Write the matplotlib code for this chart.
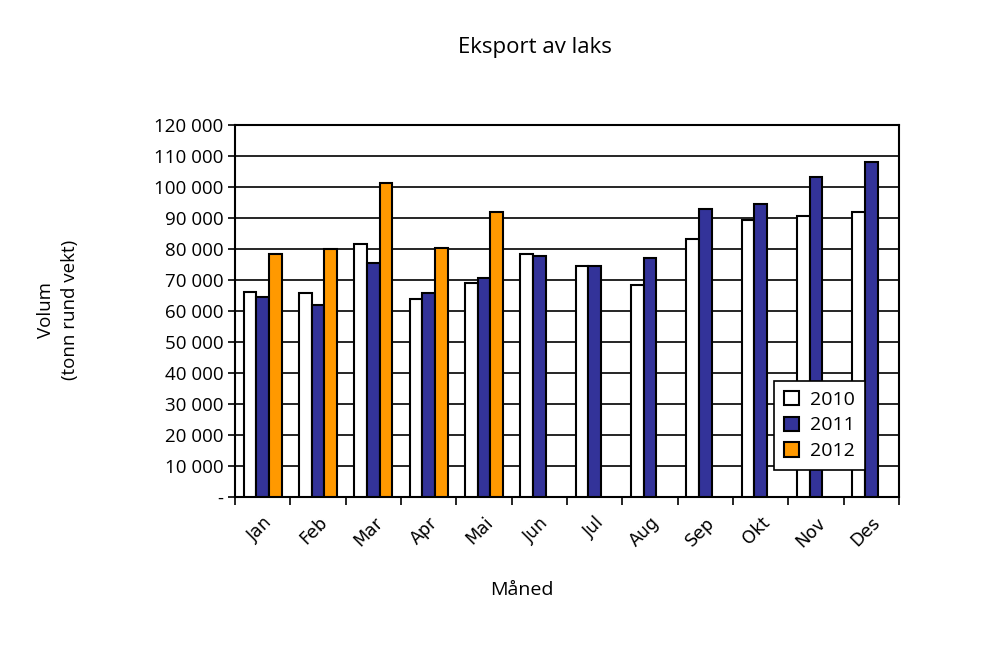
import numpy as np
import matplotlib.pyplot as plt
from matplotlib.ticker import FuncFormatter

# Data (tonn rund vekt)
maaneder = ["Jan", "Feb", "Mar", "Apr", "Mai", "Jun", "Jul", "Aug", "Sep", "Okt", "Nov", "Des"]
v2010 = [66200, 65900, 81600, 64000, 68900, 78500, 74600, 68300, 83100, 89400, 90700, 91800]
v2011 = [64400, 61900, 75600, 65700, 70800, 77600, 74600, 77000, 92800, 94600, 103300, 108000]
v2012 = [78400, 79900, 101200, 80400, 91800]

fig = plt.figure(figsize=(9.85, 6.46), dpi=100)
ax = fig.add_axes([235/985, 1-497/646, 664/985, 372/646])

x = np.arange(len(maaneder))
w = 0.228
ax.bar(x - w, v2010, w, color="white", edgecolor="black", linewidth=1.5, label="2010", zorder=3)
ax.bar(x, v2011, w, color="#333399", edgecolor="black", linewidth=1.5, label="2011", zorder=3)
ax.bar(x[:len(v2012)] + w, v2012, w, color="#FF9900", edgecolor="black", linewidth=1.5, label="2012", zorder=3)

ax.set_xlim(-0.5, 11.5)
ax.set_ylim(0, 120000)
ax.set_yticks(np.arange(0, 120001, 10000))
ax.yaxis.set_major_formatter(FuncFormatter(lambda v, p: "-" if v == 0 else f"{int(v):,}".replace(",", " ")))
ax.yaxis.grid(True, color="black", linewidth=1.2, zorder=0)
ax.tick_params(axis="y", labelsize=13.5, length=5, width=1.2, direction="out")
for lab in ax.get_yticklabels():
    lab.set_family(["Open Sans", "DejaVu Sans"])

ax.set_xticks(x)
ax.set_xticklabels(maaneder, rotation=45, ha="right", rotation_mode="anchor", fontsize=12.5)
ax.set_xticks(np.arange(-0.5, 12, 1), minor=True)
ax.tick_params(axis="x", which="major", length=0, pad=12)
ax.tick_params(axis="x", which="minor", length=6, width=1.2, direction="out")

for s in ax.spines.values():
    s.set_linewidth(1.5)

fig.text(535/985, 1-47/646, "Eksport av laks", ha="center", va="center", fontsize=16, family="Open Sans")
fig.text(522/985, 1-590/646, "Måned", ha="center", va="center", fontsize=14, family="Open Sans")
fig.text(58/985, 1-310/646, "Volum\n(tonn rund vekt)", ha="center", va="center", rotation=90,
         fontsize=13.5, family="Open Sans", linespacing=1.4)

leg = ax.legend(loc="lower right", bbox_to_anchor=(865/985, 1-470/646), bbox_transform=fig.transFigure,
                borderaxespad=0, frameon=True, fancybox=False, edgecolor="black", framealpha=1,
                fontsize=14, handlelength=0.75, handleheight=0.75, labelspacing=0.4, borderpad=0.5,
                handletextpad=0.6)
leg.get_frame().set_linewidth(1.2)
leg.set_zorder(5)
for t in leg.get_texts():
    t.set_family("Open Sans")

fig.savefig("out.png", dpi=100)
